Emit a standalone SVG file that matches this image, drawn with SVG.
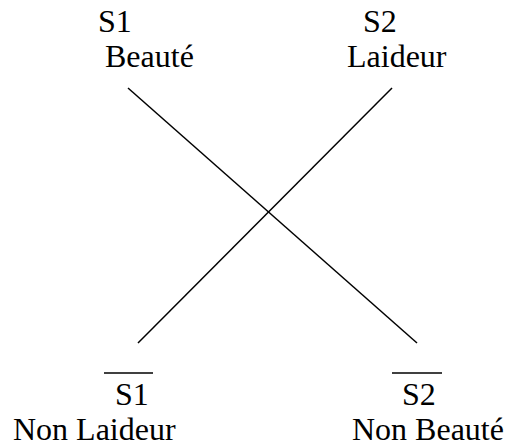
<svg xmlns="http://www.w3.org/2000/svg" width="506" height="447" viewBox="0 0 506 447">
<style>
text{font-family:"Liberation Serif","Times New Roman",serif;font-size:32px;fill:#000}
.ln{stroke:#000;stroke-width:1.5;fill:none}
</style>
<rect width="506" height="447" fill="#fff"/>
<g id="connectors">
<line class="ln" x1="128" y1="88" x2="417" y2="343"/>
<line class="ln" x1="392" y1="88" x2="138" y2="343"/>
</g>
<g id="s1">
<text x="98" y="32">S1</text>
<text x="105" y="67">Beauté</text>
</g>
<g id="s2">
<text x="363" y="32">S2</text>
<text x="347" y="67">Laideur</text>
</g>
<g id="not-s1">
<line class="ln" x1="104" y1="373" x2="153" y2="373"/>
<text x="115" y="405">S1</text>
<text x="13" y="440">Non Laideur</text>
</g>
<g id="not-s2">
<line class="ln" x1="392" y1="373" x2="442" y2="373"/>
<text x="402" y="405">S2</text>
<text x="352" y="440">Non Beauté</text>
</g>
</svg>
